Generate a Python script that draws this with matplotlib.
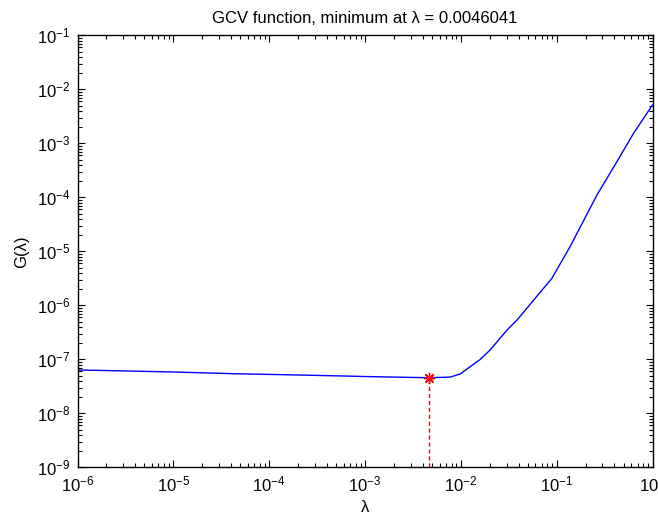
import matplotlib
matplotlib.use("Agg")
import matplotlib.pyplot as plt
from matplotlib.ticker import LogLocator, NullFormatter

plt.rcParams['font.family'] = ['Liberation Sans', 'DejaVu Sans']
plt.rcParams['mathtext.fontset'] = 'custom'
plt.rcParams['mathtext.rm'] = 'Liberation Sans'
plt.rcParams['mathtext.default'] = 'regular'

# data
lam = [1e-6, 2.19e-6, 1e-5, 4.27e-5, 2.75e-4, 1.23e-3, 4.6041e-3, 7.76e-3,
       9.84e-3, 1.25e-2, 1.6e-2, 2.02e-2, 3.04e-2, 3.86e-2, 8.91e-2, 1.38e-1,
       2.63e-1, 4.25e-1, 6.34e-1, 1.0]
gcv = [6.34e-8, 6.17e-8, 5.82e-8, 5.41e-8, 5.06e-8, 4.76e-8, 4.56e-8, 4.68e-8,
       5.35e-8, 7.29e-8, 1.0e-7, 1.49e-7, 3.49e-7, 5.35e-7, 3.16e-6, 1.22e-5,
       1.10e-4, 4.56e-4, 1.53e-3, 5.13e-3]
reg_min = 0.0046041
g_min = 4.56e-8
title = "GCV function, minimum at λ = 0.0046041"

fig = plt.figure(figsize=(6.58, 5.17), dpi=100)
ax = fig.add_axes([77.5/658, 1-467.3/517, 575/658, (467.3-35.3)/517])

ax.loglog(lam, gcv, color=(0, 0, 1), lw=1.0)
ax.plot([reg_min, reg_min], [1e-9, g_min], color='red', ls='--', lw=1.0,
        dashes=(3, 2))
ax.plot([reg_min], [g_min], marker=(8, 2, 0), color='red', ms=8, mew=1.0,
        ls='none')

ax.set_xlim(1e-6, 1e0)
ax.set_ylim(1e-9, 1e-1)
ax.xaxis.set_major_locator(LogLocator(base=10, numticks=20))
ax.yaxis.set_major_locator(LogLocator(base=10, numticks=20))
ax.xaxis.set_minor_locator(LogLocator(base=10, subs=range(2, 10), numticks=20))
ax.yaxis.set_minor_locator(LogLocator(base=10, subs=range(2, 10), numticks=20))
ax.xaxis.set_minor_formatter(NullFormatter())
ax.yaxis.set_minor_formatter(NullFormatter())

ax.tick_params(which='both', direction='in', top=True, right=True,
               labelsize=12, width=0.8, colors='black')
ax.tick_params(which='major', length=5, pad=5)
ax.tick_params(which='minor', length=3)
for s in ax.spines.values():
    s.set_linewidth(1.0)
    s.set_color('black')

ax.set_title(title, fontsize=12, pad=9)
ax.set_xlabel("λ", fontsize=12, labelpad=4)
ax.set_ylabel("G(λ)", fontsize=12, labelpad=6)

fig.savefig("out.png", dpi=100)
